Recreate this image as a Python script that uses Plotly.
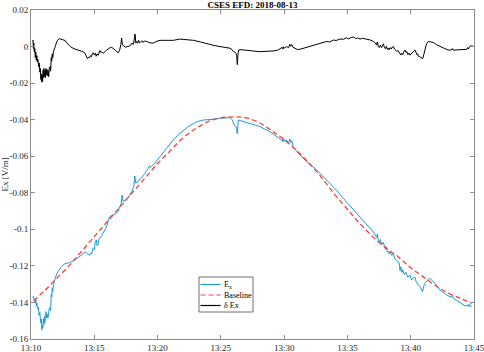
import numpy as np
import pandas as pd
import plotly.graph_objects as go

# ---------------- data (minutes after 13:00 UT, values in V/m) ----------------
baseline_min = [10.2, 11, 12, 13, 14, 15, 16, 17, 18, 19, 20, 21, 22, 23, 24, 25, 26, 27, 28,
                29, 30, 31, 32, 33, 34, 35, 36, 37, 38, 39, 40, 41, 42, 43, 44, 44.8]
baseline_val = [-0.139, -0.134, -0.127, -0.120, -0.112, -0.104, -0.096, -0.088, -0.080, -0.072,
                -0.064, -0.057, -0.050, -0.045, -0.041, -0.039, -0.0385, -0.039, -0.0415, -0.046,
                -0.051, -0.057, -0.064, -0.072, -0.081, -0.089, -0.097, -0.104, -0.110, -0.115,
                -0.121, -0.126, -0.131, -0.135, -0.138, -0.1405]

ex_min = [10.16, 10.2, 10.24, 10.30, 10.34, 10.38, 10.42, 10.47, 10.52, 10.58, 10.64, 10.70, 10.76,
          10.81, 10.86, 10.90, 10.94, 10.98, 11.02, 11.06, 11.10, 11.14, 11.19, 11.24, 11.29, 11.34,
          11.39, 11.45, 11.50, 11.55, 11.6, 11.64, 11.68, 11.72, 11.78, 11.87, 12.0, 12.13, 12.4,
          12.66, 13.06, 13.45, 13.85, 14.1, 14.24, 14.35, 14.5, 14.63, 14.7, 14.78, 14.9, 15.0,
          15.08, 15.16, 15.22, 15.29, 15.38, 15.45, 15.55, 15.65, 15.75, 15.82, 15.95, 16.05, 16.21,
          16.35, 16.48, 16.7, 16.87, 17.0, 17.12, 17.2, 17.27, 17.4, 17.55, 17.66, 17.8, 17.95,
          18.06, 18.12, 18.2, 18.28, 18.35, 18.48, 18.6, 18.72, 18.87, 19.0, 19.1, 19.27, 19.35,
          19.42, 19.66, 19.9, 20.19, 20.72, 21.24, 21.77, 22.43, 23.09, 23.61, 24.4, 24.93, 25.72,
          25.9, 26.04, 26.2, 26.25, 26.3, 26.38, 26.78, 27.3, 28.09, 28.88, 29.5, 29.67, 29.8,
          29.85, 29.9, 29.95, 30.05, 30.2, 30.35, 30.45, 30.52, 30.6, 30.72, 31.12, 31.78, 32.57,
          33.36, 34.15, 34.67, 35.46, 36.0, 36.52, 37.05, 37.31, 37.36, 37.44, 37.52, 37.6, 37.71,
          37.84, 37.92, 38.0, 38.08, 38.16, 38.23, 38.3, 38.38, 38.5, 38.63, 38.76, 38.9, 39.02,
          39.1, 39.15, 39.22, 39.3, 39.38, 39.46, 39.55, 39.62, 39.7, 39.78, 39.86, 39.94, 40.02,
          40.08, 40.2, 40.34, 40.42, 40.5, 40.6, 40.73, 40.85, 40.94, 41.03, 41.13, 41.31, 41.45,
          41.58, 41.75, 41.92, 42.31, 42.84, 43.2, 43.3, 43.37, 43.89, 44.29, 44.5, 44.55, 44.62,
          44.7, 44.78, 44.82]
ex_val = [-0.1377, -0.1365, -0.1385, -0.1395, -0.1404, -0.138, -0.142, -0.1405, -0.1435, -0.1425,
          -0.147, -0.1455, -0.151, -0.149, -0.155, -0.1525, -0.154, -0.149, -0.152, -0.1475, -0.151,
          -0.147, -0.145, -0.1485, -0.1465, -0.1485, -0.1445, -0.143, -0.1432, -0.1445, -0.1355,
          -0.137, -0.132, -0.134, -0.130, -0.1277, -0.125, -0.1231, -0.1204, -0.1189, -0.1182,
          -0.1168, -0.1149, -0.1135, -0.1122, -0.1128, -0.1131, -0.1142, -0.113, -0.1136, -0.1104,
          -0.1112, -0.107, -0.1058, -0.109, -0.1086, -0.105, -0.1045, -0.104, -0.1025, -0.1015,
          -0.1003, -0.099, -0.0965, -0.0931, -0.0925, -0.0921, -0.0915, -0.0903, -0.088, -0.0858,
          -0.0812, -0.0848, -0.0842, -0.0835, -0.083, -0.081, -0.0795, -0.0775, -0.0765, -0.0708,
          -0.0748, -0.0742, -0.0739, -0.0725, -0.0715, -0.0703, -0.0695, -0.068, -0.0666, -0.0652,
          -0.0662, -0.0648, -0.0625, -0.0602, -0.0557, -0.0511, -0.0474, -0.0438, -0.0411, -0.0402,
          -0.0398, -0.0392, -0.0389, -0.040, -0.0429, -0.0438, -0.045, -0.0478, -0.0402, -0.0411,
          -0.042, -0.0438, -0.0466, -0.0495, -0.0505, -0.0512, -0.0508, -0.0522, -0.0505, -0.0516,
          -0.0512, -0.0527, -0.0505, -0.0525, -0.0515, -0.0548, -0.0584, -0.063, -0.0675, -0.073,
          -0.0787, -0.083, -0.089, -0.093, -0.097, -0.1015, -0.1045, -0.1025, -0.106, -0.107,
          -0.1055, -0.1085, -0.107, -0.1095, -0.111, -0.1095, -0.1125, -0.112, -0.1135, -0.112,
          -0.1142, -0.1135, -0.1162, -0.1172, -0.1177, -0.1185, -0.1225, -0.1205, -0.1235, -0.1222,
          -0.1245, -0.1245, -0.1235, -0.1245, -0.1262, -0.1255, -0.125, -0.1268, -0.1277, -0.1265,
          -0.1262, -0.1285, -0.1295, -0.1304, -0.1313, -0.1325, -0.1341, -0.131, -0.1295, -0.128,
          -0.1268, -0.1273, -0.1284, -0.1295, -0.1332, -0.1359, -0.1372, -0.1362, -0.1377, -0.1401,
          -0.1419, -0.1418, -0.141, -0.1422, -0.1412, -0.1422, -0.1419]

dex_min = [10.13, 10.16, 10.19, 10.22, 10.26, 10.30, 10.34, 10.38, 10.42, 10.46, 10.50, 10.55, 10.60,
           10.65, 10.70, 10.74, 10.78, 10.82, 10.85, 10.88, 10.92, 10.95, 10.98, 11.02, 11.06, 11.10,
           11.14, 11.18, 11.22, 11.26, 11.30, 11.35, 11.40, 11.44, 11.50, 11.55, 11.60, 11.64, 11.68,
           11.72, 11.78, 11.85, 11.92, 12.00, 12.10, 12.25, 12.45, 12.7, 12.9, 13.1, 13.4, 13.6, 13.9,
           14.1, 14.25, 14.4, 14.46, 14.55, 14.62, 14.70, 14.78, 14.85, 14.92, 15.0, 15.08, 15.15,
           15.22, 15.3, 15.38, 15.45, 15.52, 15.6, 15.7, 15.8, 15.9, 15.98, 16.1, 16.25, 16.37, 16.55,
           16.75, 16.9, 17.0, 17.1, 17.16, 17.22, 17.3, 17.45, 17.6, 17.75, 17.9, 18.0, 18.1, 18.17,
           18.22, 18.28, 18.35, 18.42, 18.5, 18.56, 18.62, 18.75, 18.85, 18.95, 19.14, 19.4, 19.67,
           19.9, 20.19, 20.7, 21.25, 21.77, 22.3, 22.83, 23.4, 23.88, 24.4, 24.93, 25.35, 25.72, 25.9,
           25.99, 26.1, 26.2, 26.25, 26.3, 26.36, 26.41, 26.6, 27.04, 27.5, 28.09, 28.6, 29.15, 29.5,
           29.8, 29.85, 29.9, 29.95, 30.05, 30.2, 30.35, 30.45, 30.52, 30.6, 30.7, 30.86, 31.05,
           31.25, 31.8, 32.3, 32.85, 33.36, 33.6, 33.9, 34.1, 34.41, 34.7, 34.9, 35.1, 35.3, 35.47,
           35.65, 35.8, 36.0, 36.2, 36.52, 36.8, 37.05, 37.2, 37.3, 37.36, 37.44, 37.52, 37.6, 37.7,
           37.76, 37.84, 37.92, 38.0, 38.08, 38.16, 38.23, 38.3, 38.38, 38.46, 38.55, 38.63, 38.72,
           38.8, 38.9, 39.0, 39.08, 39.15, 39.22, 39.3, 39.38, 39.46, 39.55, 39.62, 39.7, 39.78,
           39.86, 39.94, 40.02, 40.1, 40.2, 40.28, 40.34, 40.42, 40.5, 40.56, 40.6, 40.7, 40.8, 40.9,
           40.95, 41.03, 41.13, 41.25, 41.39, 41.55, 41.79, 42.05, 42.32, 42.65, 42.97, 43.2, 43.3,
           43.34, 43.5, 43.9, 44.2, 44.42, 44.5, 44.56, 44.62, 44.69, 44.75, 44.8, 44.9]
dex_val = [0.003, 0.0035, -0.001, 0.002, -0.003, -0.001, -0.006, -0.003, -0.0075, -0.005, -0.0085,
           -0.007, -0.011, -0.009, -0.014, -0.012, -0.018, -0.015, -0.0195, -0.016, -0.019, -0.013,
           -0.017, -0.012, -0.0165, -0.013, -0.017, -0.012, -0.0155, -0.0125, -0.016, -0.013,
           -0.0165, -0.012, -0.011, -0.0135, -0.006, -0.008, -0.004, -0.006, -0.0025, -0.0015, 0.0,
           0.002, 0.0035, 0.0043, 0.004, 0.0033, 0.0015, 0.0, -0.0012, -0.0016, -0.0022, -0.0028,
           -0.0035, -0.0055, -0.0066, -0.0058, -0.0062, -0.005, -0.0056, -0.0038, -0.0034, -0.0045,
           -0.0036, -0.0053, -0.004, -0.0048, -0.0028, -0.0022, -0.0032, -0.003, -0.0037, -0.0028,
           -0.0024, -0.0019, -0.0012, -0.0006, -0.0004, -0.0012, -0.0025, -0.0034, -0.002, 0.001,
           0.0047, 0.001, 0.0004, -0.0003, 0.0, 0.0002, 0.0009, 0.002, 0.0012, 0.0045, 0.0069, 0.002,
           0.0028, 0.0018, 0.0035, 0.002, 0.0022, 0.0032, 0.0022, 0.003, 0.0028, 0.002, 0.0019,
           0.0028, 0.0034, 0.0034, 0.0034, 0.0041, 0.0038, 0.0034, 0.0025, 0.0015, 0.0007, 0.0,
           -0.0004, -0.0009, -0.0018, -0.0028, -0.003, -0.0037, -0.005, -0.0099, -0.004, -0.0019,
           -0.0017, -0.0019, -0.0024, -0.0028, -0.0027, -0.0024, -0.002, -0.0009, -0.0004, -0.0014,
           -0.0002, -0.0008, 0.0, -0.0006, 0.0012, 0.0002, 0.0011, -0.0004, -0.0009, -0.0016,
           -0.0015, -0.0004, 0.0009, 0.0018, 0.0028, 0.0025, 0.0036, 0.0033, 0.0041, 0.004, 0.0048,
           0.0042, 0.005, 0.0052, 0.0044, 0.0047, 0.0041, 0.0045, 0.0041, 0.0036, 0.0028, 0.002,
           0.0008, 0.0025, 0.0, -0.0006, 0.0008, -0.0006, 0.0004, 0.0015, -0.0004, -0.0012, 0.0002,
           -0.0016, -0.0008, -0.0018, -0.0006, -0.0014, -0.0002, 0.0, -0.0014, -0.0018, -0.0026,
           -0.0022, -0.0032, -0.0037, -0.0046, -0.0036, -0.0044, -0.0028, -0.0019, -0.0032, -0.0028,
           -0.0044, -0.0036, -0.0047, -0.004, -0.0034, -0.0026, -0.0022, -0.0019, -0.0034, -0.0045,
           -0.004, -0.0053, -0.0055, -0.0058, -0.0063, -0.0066, -0.0045, -0.0009, 0.0015, 0.0028,
           0.0027, 0.0022, 0.001, 0.0, -0.001, -0.0019, -0.0019, -0.0011, -0.0019, -0.0019, -0.0019,
           -0.0017, -0.0015, -0.0006, -0.0014, -0.0003, -0.0001, 0.0006, 0.0002, 0.0004]

x_tick_min = [10, 15, 20, 25, 30, 35, 40, 45]
y_tick_vals = [0.02, 0, -0.02, -0.04, -0.06, -0.08, -0.1, -0.12, -0.14, -0.16]
y_tick_text = ["0.02", "0", "-0.02", "-0.04", "-0.06", "-0.08", "-0.1", "-0.12", "-0.14", "-0.16"]

series_names = ["E<sub>x</sub>", "Baseline", "δ Ex"]
series_colors = ["#1e9bd7", "#ff3b3b", "#000000"]
series_dash = ["solid", "5px,3px", "solid"]

# ---------------- build ----------------
base = pd.Timestamp("2018-08-13 13:00:00")


def to_time(m):
    return base + pd.to_timedelta(np.asarray(m, dtype=float), unit="min")


FONT = "Liberation Serif, Times New Roman, serif"
AXLINE = "#8c8c8c"
TXT = "#262626"

W, H = 484, 352
ML, MR, MT, MB = 31, 10, 10, 13

fig = go.Figure()
fig.add_trace(go.Scatter(x=to_time(ex_min), y=ex_val, mode="lines", name=series_names[0],
                         line=dict(color=series_colors[0], width=1), showlegend=False))
fig.add_trace(go.Scatter(x=to_time(baseline_min), y=baseline_val, mode="lines", name=series_names[1],
                         line=dict(color=series_colors[1], width=1.3, dash=series_dash[1],
                                   shape="spline"), showlegend=False))
fig.add_trace(go.Scatter(x=to_time(dex_min), y=dex_val, mode="lines", name=series_names[2],
                         line=dict(color=series_colors[2], width=1), showlegend=False))

# compact MATLAB-style legend box (paper coordinates of the plot area)
pw, ph = W - ML - MR, H - MT - MB


def px_x(fx):
    return (fx - ML) / pw


def px_y(fy):
    return (H - MB - fy) / ph


shapes = [dict(type="rect", xref="paper", yref="paper",
               x0=px_x(199), x1=px_x(253), y0=px_y(312), y1=px_y(277),
               line=dict(color="#4d4d4d", width=0.8), fillcolor="white", layer="above")]
annotations = []
entry_y = [284.5, 295, 305.5]
for name, col, dsh, ey in zip(series_names, series_colors, series_dash, entry_y):
    shapes.append(dict(type="line", xref="paper", yref="paper",
                       x0=px_x(200.5), x1=px_x(220.5), y0=px_y(ey), y1=px_y(ey),
                       line=dict(color=col, width=1.2, dash=dsh), layer="above"))
    annotations.append(dict(xref="paper", yref="paper", x=px_x(222), y=px_y(ey),
                            xanchor="left", yanchor="middle", text=name, showarrow=False,
                            font=dict(family=FONT, size=8, color="black")))

fig.update_layout(
    width=W, height=H,
    margin=dict(l=ML, r=MR, t=MT, b=MB),
    paper_bgcolor="white", plot_bgcolor="white",
    font=dict(family=FONT, size=9, color=TXT),
    title=dict(text="<b>CSES EFD: 2018-08-13</b>", x=(ML + pw / 2) / W, xanchor="center",
               y=1 - 5 / H, yanchor="middle", font=dict(family=FONT, size=9, color="black")),
    showlegend=False,
    shapes=shapes,
    annotations=annotations,
)
fig.update_xaxes(
    type="date",
    range=[base + pd.Timedelta(minutes=10), base + pd.Timedelta(minutes=45)],
    tickvals=list(to_time(x_tick_min)), tickformat="%H:%M",
    showline=True, mirror="ticks", linecolor=AXLINE, linewidth=1,
    ticks="inside", ticklen=4, tickcolor=AXLINE, showgrid=False, zeroline=False,
    tickfont=dict(family=FONT, size=9, color=TXT), automargin=False,
    ticklabeloverflow="allow",
)
fig.update_yaxes(
    range=[-0.16, 0.02], tickvals=y_tick_vals, ticktext=y_tick_text,
    showline=True, mirror="ticks", linecolor=AXLINE, linewidth=1,
    ticks="inside", ticklen=4, tickcolor=AXLINE, showgrid=False, zeroline=False,
    tickfont=dict(family=FONT, size=9, color=TXT), automargin=False,
    ticklabeloverflow="allow",
    title=dict(text="Ex [V/m]", font=dict(family=FONT, size=9, color=TXT), standoff=0),
)

# remove the browser's default 8px page margin so the figure fills the window
fig.write_html("out.html", config={"displayModeBar": False},
               post_script="document.body.style.margin='0';")
